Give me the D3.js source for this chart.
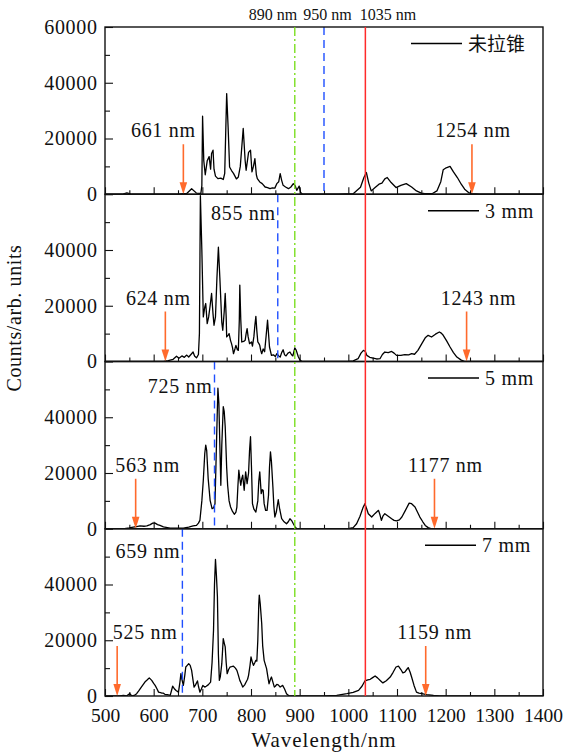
<!DOCTYPE html>
<html>
<head>
<meta charset="utf-8">
<script src="https://cdn.jsdelivr.net/npm/d3@7"></script>
<style>
  body { margin: 0; background: #fff; }
  svg text { font-family: "Liberation Serif", "Times New Roman", serif; fill: #111; }
</style>
</head>
<body>
<svg id="chart" width="563" height="753"></svg>
<script>
// Panel names (legend entries), top to bottom
const panelNames = ["未拉锥", "3 mm", "5 mm", "7 mm"];

// Spectra: [wavelength nm, counts]
const spectrumUntapered = [
  [500,0],[535,0],[545,500],[555,0],[650,0],[668,300],[678,2000],[688,400],[697,300],[699,3000],
  [700.5,28000],[703,12000],[706,7000],[710,12000],[714,13500],[717,9000],[719,14600],[722,15800],
  [724,9000],[727,6500],[732,5600],[738,5800],[743,5300],[746,7500],[750,36100],[753,24000],
  [756,9800],[760,8500],[764,7500],[770,5500],[774,6200],[778,10000],[784,23600],[788,12000],
  [790,8600],[795,15000],[799,15800],[802,8000],[805,10000],[808,12800],[811,7000],[813,5600],
  [818,4400],[823,3800],[829,2600],[834,2400],[839,2000],[844,2300],[849,2200],[853,3800],
  [857,4500],[860,7400],[863,5000],[866,3200],[871,2600],[877,2000],[882,2600],[887,3800],
  [891,3000],[894,1400],[899,2900],[902,600],[906,0],[980,0],[1010,200],[1025,2500],[1032,6000],
  [1037,7800],[1042,4000],[1047,1200],[1055,2400],[1063,3600],[1069,4000],[1075,5500],[1080,6000],
  [1088,4200],[1098,2400],[1108,3200],[1119,3800],[1130,2600],[1140,1200],[1150,400],[1157,200],
  [1172,200],[1182,1200],[1190,4500],[1195,8800],[1201,9500],[1209,10000],[1216,8000],[1224,6000],
  [1232,3600],[1239,1800],[1247,600],[1254,200],[1270,0],[1400,0]
];

const spectrum3mm = [
  [500,0],[620,0],[630,300],[640,800],[647,1900],[652,1200],[658,2000],[663,1500],[668,2300],
  [672,1600],[677,2600],[681,3400],[684,2000],[688,1300],[692,2500],[694,10000],[696,59500],
  [699,40000],[702,16000],[705,19500],[707,20800],[710,13600],[713,16000],[716,20000],[719,24400],
  [722,17000],[724,13000],[727,16000],[730,30000],[733,41000],[736,30000],[738,22000],[740,14000],
  [742,11200],[745,18000],[747,24400],[749,16000],[750,8800],[753,9500],[755,10000],[758,7500],
  [760,6400],[762,5000],[764,2800],[767,4500],[769,5800],[772,4200],[774,4000],[776,15000],
  [777,27400],[779,15000],[781,7000],[785,7200],[788,7600],[790,10000],[792,11800],[794,9000],
  [797,6400],[801,7000],[803,5500],[806,9000],[808,13000],[810,16200],[812,11000],[814,7000],
  [816,6500],[818,5800],[820,4000],[822,2800],[825,4500],[828,3500],[831,9000],[834,14800],
  [836,10000],[838,5200],[842,2200],[846,2400],[850,1800],[853,2800],[857,2000],[860,1600],
  [863,3200],[866,4200],[869,2400],[872,2000],[876,3000],[880,3400],[883,2500],[886,2000],
  [890,4900],[893,4000],[897,1800],[901,400],[906,0],[1000,0],[1010,200],[1020,1000],[1026,3000],
  [1031,4000],[1035,3600],[1038,2200],[1044,1500],[1051,1200],[1058,900],[1065,1000],[1070,2500],
  [1075,3400],[1082,3200],[1089,3600],[1094,3000],[1099,2200],[1108,2200],[1116,2500],[1124,2400],
  [1130,2800],[1136,2600],[1143,4000],[1151,6400],[1158,8500],[1164,9400],[1171,8800],[1179,9800],
  [1187,10600],[1191,10200],[1195,9400],[1202,7400],[1209,5200],[1216,3200],[1223,1600],[1232,500],
  [1240,0],[1400,0]
];

const spectrum5mm = [
  [500,0],[540,0],[550,300],[558,600],[565,800],[572,1000],[580,900],[586,1000],[593,1500],
  [598,2000],[603,2000],[608,1500],[613,1200],[620,700],[634,240],[661,240],[672,600],[681,1000],
  [688,1200],[692,2000],[695,3000],[699,10000],[702,17400],[705,27000],[707,30000],[709,28000],
  [712,18000],[716,10200],[720,7200],[723,7500],[726,9000],[729,30000],[732,50400],[734,45000],
  [736,30000],[738,15600],[740,30000],[743,43800],[745,42000],[747,36600],[750,22000],[752,15600],
  [755,10000],[758,7800],[762,6200],[766,5200],[769,6000],[771,7800],[773,15000],[775,21000],
  [777,18000],[779,15600],[781,18000],[783,19200],[786,13800],[789,20400],[792,16200],[795,20000],
  [797,28000],[799,33000],[801,22000],[803,9000],[806,7000],[810,6000],[814,10000],[816,17000],
  [818,20400],[821,12600],[823,14000],[825,13800],[827,9000],[830,6600],[833,6600],[836,12000],
  [838,22000],[840,27600],[842,24000],[845,15000],[847,8000],[849,4200],[852,6000],[856,10400],
  [859,7000],[863,3600],[868,2500],[873,1800],[877,2600],[880,3600],[884,2800],[887,1800],
  [891,600],[894,0],[1000,0],[1010,400],[1017,1800],[1024,4500],[1030,7500],[1034,9000],
  [1038,7000],[1041,5400],[1048,4200],[1055,5500],[1062,6600],[1065,5000],[1068,3000],[1071,4500],
  [1075,5400],[1082,4500],[1089,3600],[1094,3000],[1099,2800],[1105,3200],[1110,4200],[1117,6500],
  [1125,9200],[1130,9000],[1137,7800],[1142,6000],[1147,4200],[1153,2500],[1158,1200],[1164,400],
  [1171,0],[1400,0]
];

const spectrum7mm = [
  [500,0],[530,0],[538,240],[544,0],[551,840],[555,0],[560,200],[565,840],[570,2000],[575,3240],
  [582,5000],[587,5800],[591,6500],[596,5600],[600,4500],[603,3800],[607,2500],[610,1400],
  [616,1080],[620,1000],[623,600],[628,500],[634,240],[639,3500],[643,2500],[646,2000],[651,1400],
  [654,5000],[656,8000],[658,6000],[661,3800],[664,7500],[666,10400],[669,11000],[672,11600],
  [675,11000],[678,9200],[681,5500],[683,3200],[686,4000],[690,5400],[692,3500],[695,1400],
  [698,2500],[701,3800],[705,3200],[708,3500],[712,4000],[717,5000],[720,12000],[723,23600],
  [725,40000],[727,49000],[729,43000],[731,35600],[733,15000],[735,5600],[737,7000],[740,11600],
  [743,20600],[745,19000],[747,17600],[749,12000],[751,8000],[754,9500],[757,10400],[760,10500],
  [764,10700],[768,10000],[771,9200],[774,7500],[777,5600],[780,4500],[783,3200],[787,4000],
  [790,5000],[793,6000],[795,7400],[798,11000],[800,14000],[803,12000],[805,11000],[808,12000],
  [810,12800],[812,12500],[814,20000],[816,33000],[817,36200],[819,33000],[822,26000],[824,18000],
  [827,12800],[830,11000],[832,9800],[835,6500],[837,4400],[840,6000],[842,6800],[845,5000],
  [848,3200],[850,3500],[853,4200],[856,4000],[860,3200],[863,3600],[865,3800],[869,2500],
  [873,840],[877,200],[880,0],[950,0],[976,240],[997,840],[1010,1300],[1021,2000],[1028,3500],
  [1034,5400],[1040,5800],[1045,6000],[1050,6600],[1055,7200],[1060,6500],[1066,5500],[1071,4700],
  [1078,5500],[1086,6800],[1092,8500],[1098,10400],[1103,10700],[1108,9500],[1112,8300],
  [1116,8600],[1120,9500],[1123,10200],[1127,8500],[1130,6800],[1135,3800],[1140,1400],
  [1145,1000],[1151,840],[1161,500],[1175,200],[1188,0],[1400,0]
];

const spectra = [spectrumUntapered, spectrum3mm, spectrum5mm, spectrum7mm];

// Spectral edges marked by arrows (nm)
const shortEdges = [661, 624, 563, 525];
const longEdges = [1254, 1243, 1177, 1159];
// Blue dashed marker per panel (nm)
const blueMarks = [950, 855, 725, 659];
// Markers spanning all panels (nm)
const greenMark = 890;
const redMark = 1035;

// Axis ticks
const xMajorTicks = [500, 600, 700, 800, 900, 1000, 1100, 1200, 1300, 1400];
const xMinorTicks = [550, 650, 750, 850, 950, 1050, 1150, 1250, 1350];
const yMajorTicks = [0, 20000, 40000, 60000];
const yMinorTicks = [10000, 30000, 50000];

// ---- layout ----
const svg = d3.select("#chart");
const left = 105, right = 543, top0 = 27, panelH = 167.25;
const nPanels = spectra.length;
const bottomAll = top0 + nPanels * panelH;

const COL = { red: "#ff2a2a", green: "#72dc10", blue: "#1f4fff", orange: "#ff6a2c" };
const LS = "0.7px"; // letter spacing for the serif labels

const x = d3.scaleLinear().domain([500, 1400]).range([left, right]);

// per-panel text placement (pixels relative to the arrow / marker)
const shortLabelDx = [-20, -7, 12, 28];
const longLabelDx = [1, 12, 11, 9];
const blueLabelDy = [0, 26, 31, 29];
const legendX = [411, 428, 428, 425];

const defs = svg.append("defs");

spectra.forEach((data, i) => {
  const pTop = top0 + i * panelH, pBot = pTop + panelH;
  const y = d3.scaleLinear().domain([0, 60000]).range([pBot, pTop]);
  const g = svg.append("g");

  defs.append("clipPath").attr("id", "clip" + i)
    .append("rect").attr("x", left).attr("y", pTop).attr("width", right - left).attr("height", panelH);

  // x ticks (inward), labels only on the bottom panel
  const xMaj = d3.axisBottom(x).tickValues(xMajorTicks).tickSize(-7).tickPadding(12.5)
    .tickFormat(i === nPanels - 1 ? d3.format("d") : "");
  const xMin = d3.axisBottom(x).tickValues(xMinorTicks).tickSize(-4).tickFormat("");
  const gx = g.append("g").attr("transform", `translate(0,${pBot})`).call(xMaj);
  g.append("g").attr("transform", `translate(0,${pBot})`).call(xMin).select(".domain").remove();
  gx.select(".domain").remove();

  // y ticks (inward)
  const yTickVals = i === 0 ? yMajorTicks : yMajorTicks.filter(v => v < 60000);
  const gy = g.append("g").attr("transform", `translate(${left},0)`)
    .call(d3.axisLeft(y).tickValues(yTickVals).tickSize(-8).tickPadding(8).tickFormat(d3.format("d")));
  gy.select(".domain").remove();
  g.append("g").attr("transform", `translate(${left},0)`)
    .call(d3.axisLeft(y).tickValues(yMinorTicks).tickSize(-5).tickFormat(""))
    .select(".domain").remove();

  g.selectAll(".tick line").attr("stroke", "#111").attr("stroke-width", 1.1);
  gy.selectAll(".tick text").attr("font-size", 20).attr("font-family", "Liberation Serif")
    .attr("fill", "#111").style("letter-spacing", LS).attr("dx", "0.7");
  gx.selectAll(".tick text").attr("font-size", 19.5).attr("font-family", "Liberation Serif")
    .attr("fill", "#111");

  // spectrum
  g.append("path").datum(data)
    .attr("clip-path", `url(#clip${i})`)
    .attr("fill", "none").attr("stroke", "#000").attr("stroke-width", 1.3)
    .attr("stroke-linejoin", "round")
    .attr("d", d3.line().x(d => x(d[0])).y(d => y(d[1])));

  // blue dashed marker
  g.append("line")
    .attr("x1", x(blueMarks[i])).attr("x2", x(blueMarks[i]))
    .attr("y1", pTop).attr("y2", pBot)
    .attr("stroke", COL.blue).attr("stroke-width", 1.4).attr("stroke-dasharray", "8,5");
  if (i > 0) {
    g.append("text").attr("x", x(blueMarks[i]) - 2).attr("y", pTop + blueLabelDy[i])
      .attr("text-anchor", "end").attr("font-size", 20).style("letter-spacing", LS)
      .text(blueMarks[i] + " nm");
  }

  // edge arrows
  [[shortEdges[i], shortLabelDx[i]], [longEdges[i], longLabelDx[i]]].forEach(([nm, dx]) => {
    const ax = x(nm);
    g.append("line").attr("x1", ax).attr("x2", ax).attr("y1", pBot - 50).attr("y2", pBot - 10)
      .attr("stroke", COL.orange).attr("stroke-width", 1.6);
    g.append("path")
      .attr("d", `M${ax - 3.8},${pBot - 12}L${ax + 3.8},${pBot - 12}L${ax},${pBot}Z`)
      .attr("fill", COL.orange);
    g.append("text").attr("x", ax + dx).attr("y", pBot - 57)
      .attr("text-anchor", "middle").attr("font-size", 20).style("letter-spacing", LS)
      .text(nm + " nm");
  });

  // legend
  const ly = pTop + 16.5;
  g.append("line").attr("x1", legendX[i]).attr("x2", legendX[i] + 51)
    .attr("y1", ly).attr("y2", ly).attr("stroke", "#000").attr("stroke-width", 1.3);
  g.append("text").attr("x", legendX[i] + 57).attr("y", ly + 7)
    .attr("font-size", i === 0 ? 19 : 20)
    .style("font-family", i === 0 ? "'Noto Sans CJK SC', sans-serif" : "'Liberation Serif', serif")
    .style("letter-spacing", i === 0 ? "0px" : LS)
    .text(panelNames[i]);

  // frame
  g.append("rect").attr("x", left).attr("y", pTop).attr("width", right - left).attr("height", panelH)
    .attr("fill", "none").attr("stroke", "#111").attr("stroke-width", 1.4);
});

// markers spanning all panels
svg.append("line")
  .attr("x1", x(greenMark)).attr("x2", x(greenMark)).attr("y1", top0).attr("y2", bottomAll)
  .attr("stroke", COL.green).attr("stroke-width", 1.3).attr("stroke-dasharray", "9,3,2,3");
svg.append("line")
  .attr("x1", x(redMark)).attr("x2", x(redMark)).attr("y1", top0).attr("y2", bottomAll)
  .attr("stroke", COL.red).attr("stroke-width", 1.5);

// marker labels above the top panel
svg.append("text").attr("x", x(greenMark) + 2.5).attr("y", 19.5).attr("text-anchor", "end")
  .attr("font-size", 16).text(greenMark + " nm");
svg.append("text").attr("x", x(blueMarks[0]) + 3.5).attr("y", 19.5).attr("text-anchor", "middle")
  .attr("font-size", 16).text(blueMarks[0] + " nm");
svg.append("text").attr("x", x(redMark) - 5.5).attr("y", 19.5).attr("text-anchor", "start")
  .attr("font-size", 16).text(redMark + " nm");

// axis titles
svg.append("text").attr("x", (left + right) / 2).attr("y", 747).attr("text-anchor", "middle")
  .attr("font-size", 21).style("letter-spacing", "1px").text("Wavelength/nm");
svg.append("text").attr("transform", "translate(21,318) rotate(-90)").attr("text-anchor", "middle")
  .attr("font-size", 20).style("letter-spacing", "0.6px").text("Counts/arb. units");
</script>
</body>
</html>
